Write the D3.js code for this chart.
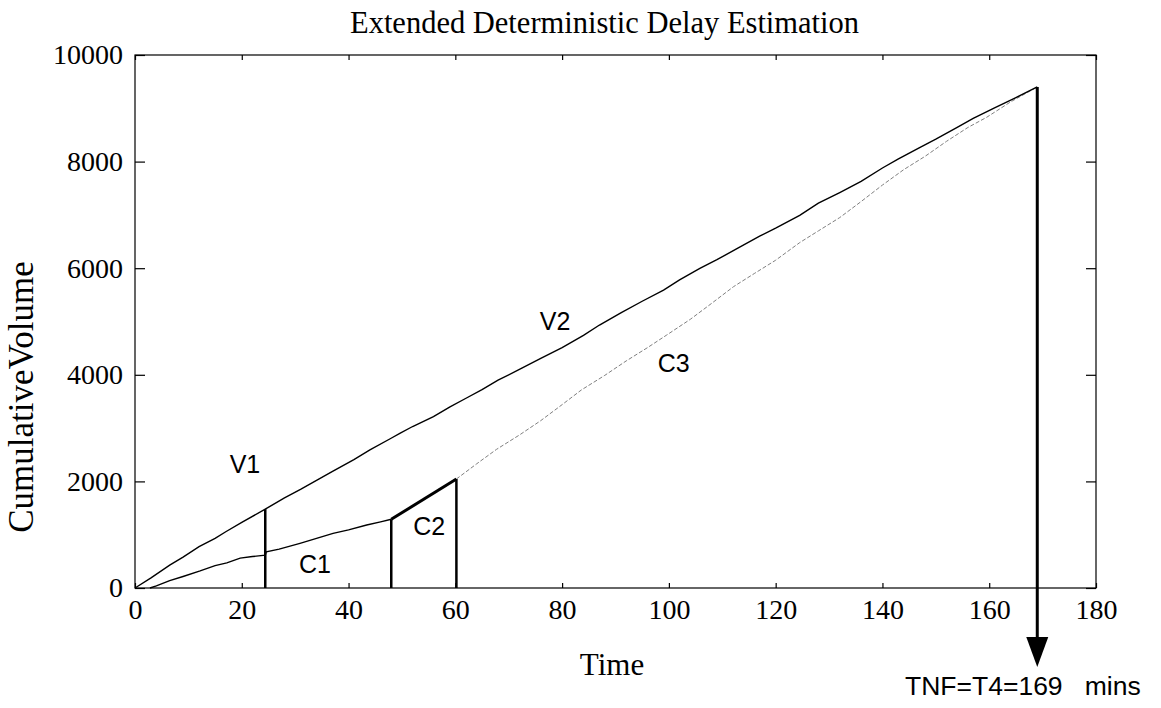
<!DOCTYPE html>
<html>
<head>
<meta charset="utf-8">
<script src="https://cdn.jsdelivr.net/npm/d3@7/dist/d3.min.js"></script>
<style>
  html, body { margin: 0; padding: 0; background: #fff; }
  svg { display: block; }
  .serif { font-family: "Liberation Serif", "Times New Roman", serif; }
  .sans { font-family: "Liberation Sans", Arial, sans-serif; }
</style>
</head>
<body>
<svg id="chart" width="1161" height="708"></svg>
<script>
// Cumulative arrivals (V) — time in minutes, cumulative vehicles
const arrivalTime = [0, 3, 6.5, 9, 12, 15, 17, 20, 24.4, 28, 31, 34, 37, 41, 44, 47.8, 49.6, 52, 55.9, 59, 62, 65, 68,
  72, 76, 80, 84, 87, 91, 95, 99, 102, 105.8, 109, 113, 117, 120, 124.5, 128, 132, 136, 140, 143, 146.7, 150, 154,
  157, 161, 165, 169];
const arrivalVolume = [0, 190, 430, 580, 775, 930, 1055, 1230, 1480, 1690, 1850, 2020, 2190, 2410, 2590, 2800, 2902,
  3030, 3215, 3400, 3560, 3720, 3900, 4100, 4310, 4510, 4740, 4934, 5160, 5380, 5590, 5780, 5998, 6160, 6380, 6600,
  6750, 6990, 7220, 7420, 7630, 7880, 8050, 8250, 8420, 8640, 8810, 9010, 9200, 9400];

// Departures during the first capacity period (C1)
const c1Time = [2.8, 4, 6.5, 9, 12.2, 15, 17.2, 19.7, 22, 24.4, 24.6, 27, 30.9, 34, 37.1, 40, 43.4, 46, 48];
const c1Volume = [0, 40, 137, 215, 320, 420, 470, 560, 590, 615, 680, 730, 838, 930, 1026, 1090, 1182, 1240, 1289];

// Second capacity period (C2)
const c2Time = [48, 60.2];
const c2Volume = [1289, 2045];

// Third capacity period (C3) until the queue clears
const c3Time = [60.2, 64, 67.7, 72, 76, 80, 83.6, 88, 92, 96, 99.6, 104, 108, 112.1, 116, 120, 124.5, 128, 132, 136,
  140, 144, 148, 152, 156, 159.5, 164, 169];
const c3Volume = [2045, 2330, 2600, 2870, 3140, 3440, 3715, 3990, 4260, 4510, 4747, 5040, 5340, 5653, 5900, 6150, 6480,
  6700, 6950, 7250, 7560, 7850, 8100, 8380, 8640, 8830, 9120, 9400];

// Vertical markers at the period boundaries: time and top volume
const markerTime = [24.4, 48, 60.2];
const markerTop = [1480, 1289, 2045];

// Queue clearing time
const clearTime = 169;
const clearVolume = 9400;

// Curve labels with their anchor positions (time, volume)
const labelText = ["V1", "V2", "C1", "C2", "C3"];
const labelTime = [20.6, 78.7, 33.7, 55.1, 100.9];
const labelVolume = [2158, 4840, 281, 994, 4052];

const xTicks = [0, 20, 40, 60, 80, 100, 120, 140, 160, 180];
const yTicks = [0, 2000, 4000, 6000, 8000, 10000];

const titleText = "Extended Deterministic Delay Estimation";
const xLabel = "Time";
const yLabel = "CumulativeVolume";
const clearLabel = "TNF=T4=169\u00a0\u00a0 mins";

const svg = d3.select("#chart");
const plotL = 135, plotR = 1096, plotT = 55, plotB = 588;

const x = d3.scaleLinear().domain([0, 180]).range([plotL, plotR]);
const y = d3.scaleLinear().domain([0, 10000]).range([plotB, plotT]);

const toPts = (ts, vs) => ts.map((t, i) => [t, vs[i]]);
const line = d3.line().x(d => x(d[0])).y(d => y(d[1]));

// Frame
svg.append("rect")
  .attr("x", plotL).attr("y", plotT)
  .attr("width", plotR - plotL).attr("height", plotB - plotT)
  .attr("fill", "none").attr("stroke", "#000").attr("stroke-width", 1.2);

// Axes with inward ticks
const styleAxis = g => {
  g.select(".domain").remove();
  g.selectAll(".tick line").attr("stroke", "#000").attr("stroke-width", 1.2);
  g.selectAll(".tick text")
    .attr("font-family", "'Liberation Serif', 'Times New Roman', serif")
    .attr("font-size", 28).attr("fill", "#000");
};

svg.append("g").attr("transform", `translate(0,${plotB})`)
  .call(d3.axisBottom(x).tickValues(xTicks).tickSizeInner(-5).tickSizeOuter(0).tickPadding(11).tickFormat(d3.format("d")))
  .call(styleAxis);
svg.append("g").attr("transform", `translate(0,${plotT})`)
  .call(d3.axisTop(x).tickValues(xTicks).tickSizeInner(-5).tickSizeOuter(0).tickFormat(""))
  .call(styleAxis);
svg.append("g").attr("transform", `translate(${plotL},0)`)
  .call(d3.axisLeft(y).tickValues(yTicks).tickSizeInner(-10).tickSizeOuter(0).tickPadding(12).tickFormat(d3.format("d")))
  .call(styleAxis);
svg.append("g").attr("transform", `translate(${plotR},0)`)
  .call(d3.axisRight(y).tickValues(yTicks).tickSizeInner(-10).tickSizeOuter(0).tickFormat(""))
  .call(styleAxis);

// Curves
svg.append("path").datum(toPts(c3Time, c3Volume))
  .attr("d", line).attr("fill", "none")
  .attr("stroke", "#808080").attr("stroke-width", 1).attr("stroke-dasharray", "4 2");

svg.append("path").datum(toPts(arrivalTime, arrivalVolume))
  .attr("d", line).attr("fill", "none").attr("stroke", "#000").attr("stroke-width", 1.4);

svg.append("path").datum(toPts(c1Time, c1Volume))
  .attr("d", line).attr("fill", "none").attr("stroke", "#000").attr("stroke-width", 1.4);

svg.append("path").datum(toPts(c2Time, c2Volume))
  .attr("d", line).attr("fill", "none").attr("stroke", "#000").attr("stroke-width", 3);

// Boundary markers
svg.selectAll(".marker").data(markerTime).join("line")
  .attr("class", "marker")
  .attr("x1", d => x(d)).attr("x2", d => x(d))
  .attr("y1", y(0)).attr("y2", (d, i) => y(markerTop[i]))
  .attr("stroke", "#000").attr("stroke-width", 2.5);

// Clearing-time arrow
const ax = x(clearTime);
const tipY = plotB + 79, headLen = 30, headHalf = 11;
svg.append("line")
  .attr("x1", ax).attr("x2", ax)
  .attr("y1", y(clearVolume)).attr("y2", tipY - headLen + 2)
  .attr("stroke", "#000").attr("stroke-width", 3);
svg.append("path")
  .attr("d", `M${ax - headHalf},${tipY - headLen}L${ax + headHalf},${tipY - headLen}L${ax},${tipY}Z`)
  .attr("fill", "#000");

// Curve labels
svg.selectAll(".curve-label").data(labelText).join("text")
  .attr("class", "curve-label sans")
  .attr("x", (d, i) => x(labelTime[i])).attr("y", (d, i) => y(labelVolume[i]))
  .attr("text-anchor", "middle").attr("font-size", 25).attr("fill", "#000")
  .text(d => d);

svg.append("text").attr("class", "sans")
  .attr("x", 905).attr("y", 695).attr("font-size", 26.5).attr("fill", "#000")
  .text(clearLabel);

// Titles
svg.append("text").attr("class", "serif")
  .attr("x", 350).attr("y", 33)
  .attr("font-size", 30.5).attr("fill", "#000")
  .text(titleText);

svg.append("text").attr("class", "serif")
  .attr("x", 612).attr("y", 675)
  .attr("text-anchor", "middle").attr("font-size", 31).attr("fill", "#000")
  .text(xLabel);

svg.append("text").attr("class", "serif")
  .attr("transform", "translate(33,397) rotate(-90)")
  .attr("text-anchor", "middle").attr("font-size", 35).attr("fill", "#000")
  .text(yLabel);
</script>
</body>
</html>
